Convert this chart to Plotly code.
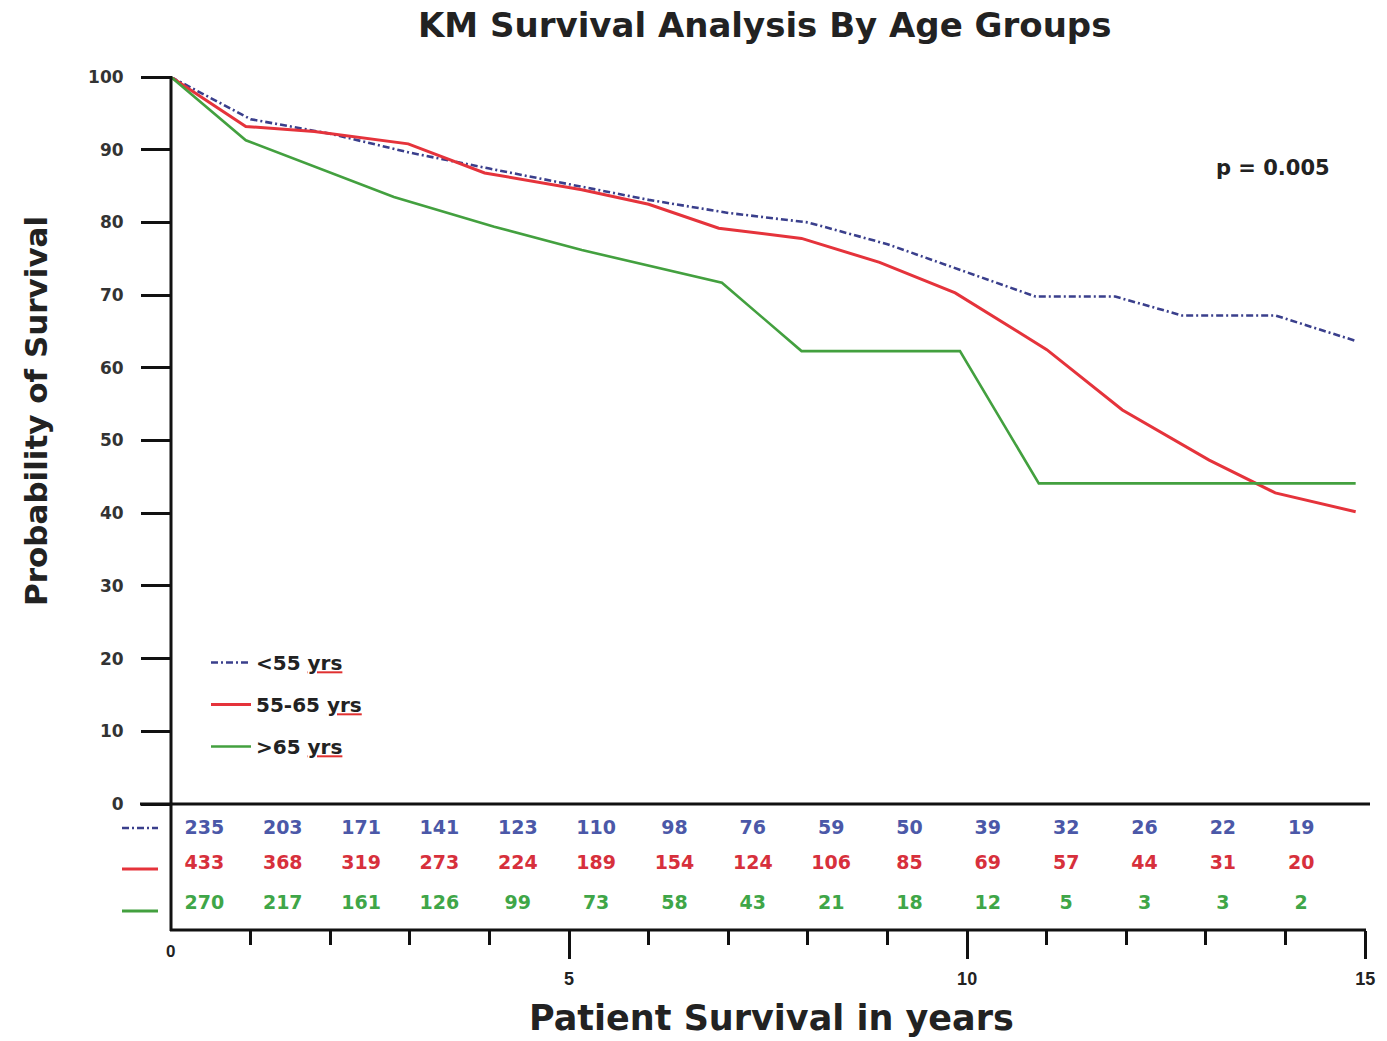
import numpy as np
import plotly.graph_objects as go

# ---------------- data ----------------
title_text = "KM Survival Analysis By Age Groups"
group_names = ["<55 yrs", "55-65 yrs", ">65 yrs"]

t_lt55 = [0, 1.0, 2.0, 3.0, 4.0, 5.0, 6.0, 7.0, 8.0, 9.0, 9.85, 10.86, 11.86, 12.7, 13.87, 14.88]
s_lt55 = [100, 94.2, 92.2, 89.6, 87.4, 85.2, 83.1, 81.3, 80.0, 77.0, 73.7, 69.8, 69.8, 67.2, 67.2, 63.7]

t_55_65 = [0, 0.94, 1.8, 2.98, 3.94, 5.16, 6.0, 6.88, 7.92, 8.9, 9.85, 10.19, 11.0, 11.95, 13.04, 13.87, 14.88]
s_55_65 = [100, 93.2, 92.5, 90.8, 86.8, 84.5, 82.5, 79.2, 77.8, 74.5, 70.3, 68.0, 62.5, 54.2, 47.3, 42.8, 40.2]

t_gt65 = [0, 0.94, 2.8, 4.06, 5.16, 6.92, 7.92, 9.91, 10.9, 14.88]
s_gt65 = [100, 91.3, 83.5, 79.4, 76.2, 71.7, 62.3, 62.3, 44.1, 44.1]

risk_lt55 = [235, 203, 171, 141, 123, 110, 98, 76, 59, 50, 39, 32, 26, 22, 19]
risk_55_65 = [433, 368, 319, 273, 224, 189, 154, 124, 106, 85, 69, 57, 44, 31, 20]
risk_gt65 = [270, 217, 161, 126, 99, 73, 58, 43, 21, 18, 12, 5, 3, 3, 2]

y_ticks = [0, 10, 20, 30, 40, 50, 60, 70, 80, 90, 100]
x_major_ticks = [5, 10, 15]
p_text = "p = 0.005"
x_title = "Patient Survival in years"
y_title = "Probability of Survival"

# ---------------- styling / layout ----------------
W, H = 1387, 1041
BLUE, RED, GREEN = "#3a3f8c", "#e5333b", "#43a03f"
TBLUE, TRED, TGREEN = "#4b58a8", "#d7303c", "#3fa648"
BOLD = "DejaVu Sans"
SANS = "Liberation Sans, Arial"


def px(xp):
    return xp / W


def py(yp):
    return 1 - yp / H


def legend_label(name):
    head, tail = name.rsplit(" ", 1)
    return (f"{head} <span style='fill:#e03030;text-decoration:underline'>"
            f"<span style='fill:#222'>{tail}</span></span>")


fig = go.Figure()

series = [
    (t_lt55, s_lt55, BLUE, dict(dash="7px,3px,2px,3px", width=2.6)),
    (t_55_65, s_55_65, RED, dict(width=3)),
    (t_gt65, s_gt65, GREEN, dict(width=2.6)),
]
for i, (t, s, c, ls) in enumerate(series):
    fig.add_trace(go.Scatter(
        x=t, y=s, mode="lines", name=legend_label(group_names[i]),
        line=dict(color=c, **ls),
        legendgroup=f"g{i}",
        xaxis="x", yaxis="y",
    ))

# numbers at risk table
col_x = 0.42 + 0.984 * np.arange(len(risk_lt55))
row_y = [0.80, 0.525, 0.205]
for vals, col, ry in zip([risk_lt55, risk_55_65, risk_gt65], [TBLUE, TRED, TGREEN], row_y):
    fig.add_trace(go.Scatter(
        x=col_x, y=[ry] * len(vals), mode="text",
        text=[str(v) for v in vals],
        textfont=dict(family=BOLD, size=19, color=col, weight="bold"),
        textposition="middle center",
        showlegend=False, xaxis="x", yaxis="y2", hoverinfo="skip",
    ))

fig.update_layout(
    width=W, height=H,
    margin=dict(l=0, r=0, t=0, b=0, autoexpand=False),
    paper_bgcolor="white", plot_bgcolor="white",
    showlegend=True,
    legend=dict(
        x=px(206), y=py(643), xanchor="left", yanchor="top",
        bgcolor="rgba(0,0,0,0)",
        font=dict(family=BOLD, size=20, color="#222", weight="bold"),
        traceorder="grouped", tracegroupgap=13,
        itemwidth=40,
    ),
    xaxis=dict(
        domain=[px(140), px(1370)],
        range=[-0.389, 15.06],
        anchor="free", position=py(930), automargin=False,
        showgrid=False, zeroline=False, showline=False,
        tickmode="array", tickvals=x_major_ticks,
        ticktext=[str(v) for v in x_major_ticks],
        ticks="outside", ticklen=28, tickwidth=2.5, tickcolor="#111",
        ticklabelstandoff=4,
        tickfont=dict(family=SANS, size=18, color="#222", weight="bold"),
        minor=dict(tickmode="array", tickvals=[v for v in range(1, 15) if v % 5 != 0],
                   ticks="outside", ticklen=14, tickwidth=2.5, tickcolor="#111"),
    ),
    yaxis=dict(
        domain=[py(804), py(77)],
        range=[0, 100],
        anchor="free", position=px(171), automargin=False,
        showgrid=False, zeroline=False, showline=False,
        tickmode="array", tickvals=y_ticks,
        ticks="outside", ticklen=30, tickwidth=3, tickcolor="#111",
        ticklabelstandoff=14,
        tickfont=dict(family=BOLD, size=17, color="#333", weight="bold"),
    ),
    yaxis2=dict(
        domain=[py(930), py(804)],
        range=[0, 1], automargin=False,
        anchor="x", showgrid=False, zeroline=False, showline=False,
        showticklabels=False, ticks="",
    ),
)

# axis lines
shapes = [
    dict(type="line", xref="paper", yref="paper", x0=px(171), x1=px(171), y0=py(76), y1=py(931),
         line=dict(color="#111", width=3)),
    dict(type="line", xref="paper", yref="paper", x0=px(140), x1=px(1370), y0=py(804), y1=py(804),
         line=dict(color="#111", width=3)),
    dict(type="line", xref="paper", yref="paper", x0=px(170), x1=px(1366), y0=py(930), y1=py(930),
         line=dict(color="#111", width=3)),
    # symbols left of table
    dict(type="line", xref="paper", yref="paper", x0=px(122), x1=px(158), y0=py(828), y1=py(828),
         line=dict(color=BLUE, width=2.5, dash="7px,3px,2px,3px")),
    dict(type="line", xref="paper", yref="paper", x0=px(122), x1=px(158), y0=py(869), y1=py(869),
         line=dict(color=RED, width=3)),
    dict(type="line", xref="paper", yref="paper", x0=px(122), x1=px(158), y0=py(911), y1=py(911),
         line=dict(color=GREEN, width=3)),
]
fig.update_layout(shapes=shapes)

annotations = [
    dict(text=f"<b>{title_text}</b>", x=px(764), y=py(25), xref="paper", yref="paper",
         xanchor="center", yanchor="middle", showarrow=False,
         font=dict(family=BOLD, size=34, color="#222")),
    dict(text=f"<b>{y_title}</b>", x=px(36), y=py(411), xref="paper", yref="paper",
         xanchor="center", yanchor="middle", showarrow=False, textangle=-90,
         font=dict(family=BOLD, size=31, color="#222")),
    dict(text=f"<b>{x_title}</b>", x=px(771), y=py(1018), xref="paper", yref="paper",
         xanchor="center", yanchor="middle", showarrow=False,
         font=dict(family=BOLD, size=35, color="#222")),
    dict(text=f"<b>{p_text}</b>", x=px(1273), y=py(168), xref="paper", yref="paper",
         xanchor="center", yanchor="middle", showarrow=False,
         font=dict(family=BOLD, size=21, color="#222")),
    dict(text="<b>0</b>", x=0, y=py(951), xref="x", yref="paper",
         xanchor="center", yanchor="middle", showarrow=False,
         font=dict(family=SANS, size=17, color="#222")),
]
fig.update_layout(annotations=annotations)

fig.write_html("out.html")
